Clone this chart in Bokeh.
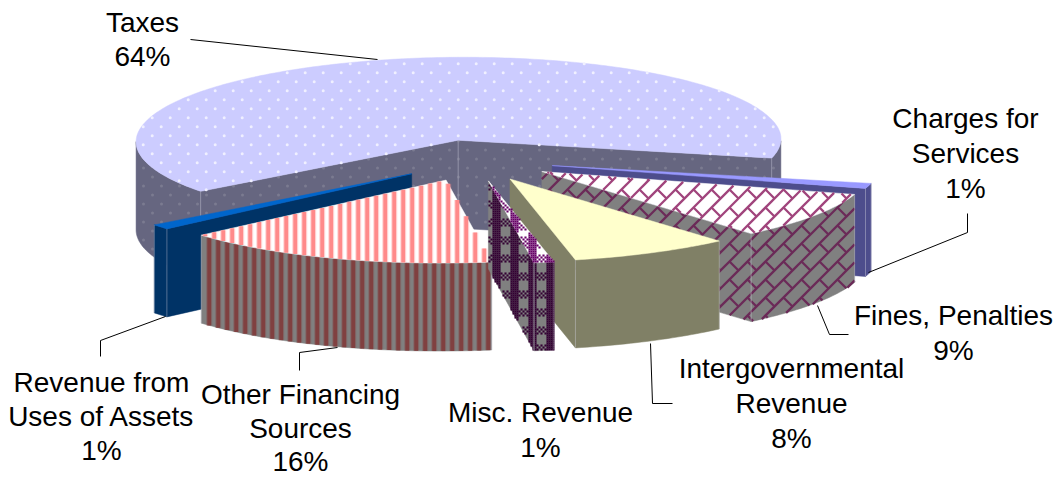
import math
from bokeh.core.properties import value
from bokeh.embed import file_html
from bokeh.models import Range1d
from bokeh.plotting import figure
from bokeh.resources import INLINE

# Revenue shares, drawn clockwise from the Taxes slice
categories = ["Taxes", "Charges for Services", "Fines, Penalties", "Intergovernmental Revenue",
              "Misc. Revenue", "Other Financing Sources", "Revenue from Uses of Assets"]
shares = [64, 1, 9, 8, 1, 16, 1]

label_lines = [["Taxes", "64%"], ["Charges for", "Services", "1%"], ["Fines, Penalties", "9%"],
               ["Intergovernmental", "Revenue", "8%"], ["Misc. Revenue", "1%"],
               ["Other Financing", "Sources", "16%"], ["Revenue from", "Uses of Assets", "1%"]]
label_centers = [142, 965, 953, 791, 540, 300, 101]
label_first_y = [22, 118, 315, 368, 412, 394, 382]
label_pitch = [34, 35, 35, 35, 35, 33.5, 34]

# Leader lines from labels to their slices
leaders = [([190, 377], [39, 59]),
           ([967, 967, 868], [213, 232, 272]),
           ([817, 829, 848], [305, 334, 334]),
           ([650, 652, 672], [343, 403, 403]),
           ([100, 100, 165], [356, 340, 316]),
           ([299, 299, 337], [370, 352, 347])]

# Projection of the tilted pie onto the page
CX, CY = 474.0, 160.0
SX, SY = 322.0, 83.0
SHEAR = -6.0
FAR_RIGHT_START, FAR_RIGHT_STRETCH = 0.9, 18.0
THICKNESS = 88.0
EXPLODE = 0.25
START_ANGLE = -128.0


def project(x, y, drop=0.0):
    stretch = FAR_RIGHT_STRETCH * max(0.0, x - FAR_RIGHT_START)
    return CX + SX * x + stretch + SHEAR * y, CY + SY * y + drop


def polar(deg, radius=1.0):
    a = math.radians(deg)
    return radius * math.sin(a), -radius * math.cos(a)


p = figure(width=1062, height=478, x_range=Range1d(0, 1062), y_range=Range1d(478, 0),
           output_backend="svg", toolbar_location=None, min_border=0,
           x_axis_type=None, y_axis_type=None, outline_line_color=None,
           background_fill_color="white", border_fill_color="white")
p.xgrid.visible = False
p.ygrid.visible = False


def inside(px, py, poly):
    hit = False
    n = len(poly)
    for i in range(n):
        x0, y0 = poly[i]
        x1, y1 = poly[(i + 1) % n]
        if (y0 > py) != (y1 > py) and px < x0 + (py - y0) * (x1 - x0) / (y1 - y0):
            hit = not hit
    return hit


def clip_segment(a, b, poly):
    """Pieces of segment a-b that fall inside the polygon."""
    ts = [0.0, 1.0]
    dx, dy = b[0] - a[0], b[1] - a[1]
    n = len(poly)
    for i in range(n):
        x0, y0 = poly[i]
        x1, y1 = poly[(i + 1) % n]
        ex, ey = x1 - x0, y1 - y0
        den = dx * ey - dy * ex
        if abs(den) < 1e-9:
            continue
        t = ((x0 - a[0]) * ey - (y0 - a[1]) * ex) / den
        u = ((x0 - a[0]) * dy - (y0 - a[1]) * dx) / den
        if 0 < t < 1 and 0 <= u <= 1:
            ts.append(t)
    ts.sort()
    out = []
    for t0, t1 in zip(ts, ts[1:]):
        m = (t0 + t1) / 2
        if t1 - t0 > 1e-6 and inside(a[0] + dx * m, a[1] + dy * m, poly):
            out.append(((a[0] + dx * t0, a[1] + dy * t0), (a[0] + dx * t1, a[1] + dy * t1)))
    return out


def extent(poly):
    xs = [q[0] for q in poly]
    ys = [q[1] for q in poly]
    return math.floor(min(xs)), math.ceil(max(xs)), math.floor(min(ys)), math.ceil(max(ys))


def draw_segments(pieces, color, width, alpha=1.0):
    if pieces:
        p.multi_line([[a[0], b[0]] for a, b in pieces], [[a[1], b[1]] for a, b in pieces],
                     line_color=color, line_width=width, line_cap="butt", line_alpha=alpha)


def dots(poly, color, origin):
    x0, x1, y0, y1 = extent(poly)
    xs, ys = [], []
    for row, col in ((0, 0), (9, 9)):
        oy = origin[1] + row
        ox = origin[0] + col
        for j in range(int((y0 - oy) // 18), int((y1 - oy) // 18) + 2):
            for i in range(int((x0 - ox) // 18), int((x1 - ox) // 18) + 2):
                qx, qy = ox + i * 18, oy + j * 18
                if inside(qx, qy, poly):
                    xs.append(qx)
                    ys.append(qy)
    p.scatter(xs, ys, size=3.0, fill_color=color, line_color=None)


def stripes(poly, color, phase):
    x0, x1, y0, y1 = extent(poly)
    pieces = []
    k = math.floor((x0 - phase) / 9)
    while phase + k * 9 <= x1:
        x = phase + k * 9
        pieces += clip_segment((x, y0 - 1), (x, y1 + 1), poly)
        k += 1
    draw_segments(pieces, color, 6.0, 0.35)
    draw_segments(pieces, color, 3.8)


def bricks(poly, color):
    x0, x1, y0, y1 = extent(poly)
    pieces = []
    # Long rising courses one tile apart, with a short joint falling from each tile's middle
    for k in range(int((x0 + y0) // 18) - 1, int((x1 + y1) // 18) + 2):
        c = k * 18
        pieces += clip_segment((x0 - 40, c - x0 + 40), (x1 + 40, c - x1 - 40), poly)
    for i in range(x0 // 18 - 1, x1 // 18 + 2):
        for j in range(y0 // 18 - 1, y1 // 18 + 2):
            pieces += clip_segment((i * 18 + 9, j * 18 + 9), (i * 18 + 18, j * 18 + 18), poly)
    draw_segments(pieces, color, 2.3)


def plaid(poly, color, band_rows):
    x0, x1, y0, y1 = extent(poly)
    cols, rows = [], []
    for gx in range(x0 - x0 % 2, x1 + 2, 2):
        for gy in range(y0 - y0 % 2, y1 + 2, 2):
            column = (gx - 6) % 18 < 8
            band = 2 <= gy % 18 < 2 + band_rows
            check = band and (gx + gy) % 4 == 0
            if (column or check) and inside(gx + 1, gy + 1, poly):
                cols.append(gx + 1)
                rows.append(gy + 1)
    p.rect(cols, rows, width=2.1, height=2.1, fill_color=color, line_color=None)


def patch(poly, base):
    p.patch([q[0] for q in poly], [q[1] for q in poly], fill_color=base, line_color=base, line_width=0.5)


# Per-slice paint: base colour and overlay for top and side faces
def paint(index, face, poly):
    if index == 0:
        if face == "top":
            patch(poly, "#ccccff")
            dots(poly, "#f0f0ff", (7.7, 9.3))
        else:
            patch(poly, "#666680")
            dots(poly, "#7b7b90", (17.0, 5.5))
    elif index == 1:
        patch(poly, "#9999ff" if face == "top" else "#4d4d8c")
    elif index == 2:
        if face == "top":
            patch(poly, "#ffffff")
            bricks(poly, "#a0447c")
        else:
            patch(poly, "#808080")
            bricks(poly, "#6b2a58")
    elif index == 3:
        patch(poly, "#ffffcc" if face == "top" else "#808066")
    elif index == 4:
        if face == "top":
            patch(poly, "#ffffff")
            plaid(poly, "#660066", 12)
        else:
            patch(poly, "#808080")
            plaid(poly, "#330033", 8)
    elif index == 5:
        if face == "top":
            patch(poly, "#ffffff")
            stripes(poly, "#ff8a8a", 6.7)
        else:
            patch(poly, "#808080")
            stripes(poly, "#804040", 1.7)
    else:
        patch(poly, "#0066cc" if face == "top" else "#003366")


def highlight(pt):
    x0, y0 = project(*pt)
    x1, y1 = project(*pt, THICKNESS)
    p.line([x0, x1], [y0, y1], line_color="#c8c8d8", line_alpha=0.4, line_width=1)


def wedge_faces(index, start, end):
    mid = (start + end) / 2
    ox, oy = polar(mid, EXPLODE)
    apex = (ox, oy)
    steps = max(2, int(abs(end - start)))
    angles = [start + (end - start) * k / steps for k in range(steps + 1)]
    rim = [(ox + polar(a)[0], oy + polar(a)[1]) for a in angles]

    # Radial cut faces that turn toward the viewer
    shown = 0
    for outer, visible in ((rim[0], -math.sin(math.radians(start)) > 0),
                           (rim[-1], math.sin(math.radians(end)) > 0)):
        if visible:
            shown += 1
            paint(index, "side", [project(*apex), project(*outer), project(*outer, THICKNESS),
                                  project(*apex, THICKNESS)])
    if shown == 2:
        highlight(apex)

    # Outer wall, only the part on the near half of the rim
    run = []
    runs = [run]
    for a, pt in zip(angles, rim):
        if polar(a)[1] >= 0:
            run.append(pt)
        elif run:
            run = []
            runs.append(run)
    for seg in (r for r in runs if len(r) > 1):
        paint(index, "side", [project(*q) for q in seg] + [project(*q, THICKNESS) for q in reversed(seg)])

    # Top face
    paint(index, "top", [project(*apex)] + [project(*q) for q in rim])

    # Faint highlight along the near vertical corners
    for pt, a in ((rim[0], start), (rim[-1], end)):
        if polar(a)[1] > 0:
            highlight(pt)


bounds = []
angle = START_ANGLE
total = sum(shares)
for s in shares:
    bounds.append((angle, angle + 360.0 * s / total))
    angle = bounds[-1][1]

# Paint back to front
for i in (0, 1, 6, 2, 3, 5, 4):
    wedge_faces(i, *bounds[i])

for xs, ys in leaders:
    p.line(xs, ys, line_color="black", line_width=1)

for lines, cx, y0, pitch in zip(label_lines, label_centers, label_first_y, label_pitch):
    p.text([cx] * len(lines), [y0 + k * pitch for k in range(len(lines))], text=lines,
           text_font=value("Liberation Sans"), text_font_size="28px", text_color="black",
           text_align="center", text_baseline="middle")

open("out.html", "w").write(file_html(p, INLINE))
